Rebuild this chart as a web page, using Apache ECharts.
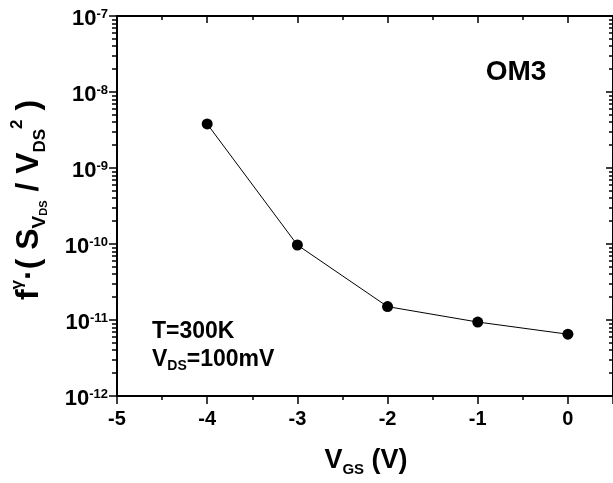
<!DOCTYPE html>
<html>
<head>
<meta charset="utf-8">
<script src="https://cdn.jsdelivr.net/npm/echarts@6/dist/echarts.min.js"></script>
<style>
html,body{margin:0;padding:0;background:#fff}
#chart{width:613px;height:483px}
</style>
</head>
<body>
<div id="chart"></div>
<script>
// V_GS (V) and normalised noise
var vgs = [-4, -3, -2, -1, 0];
var noise = [3.8e-9, 9.7e-11, 1.5e-11, 9.4e-12, 6.5e-12];
// axis ranges / ticks
var xMin = -5, xMax = 0.5;
var yDecades = [1e-12, 1e-11, 1e-10, 1e-9, 1e-8, 1e-7];

var FONT = '"Liberation Sans", Arial, sans-serif';

// minor log ticks 2..9 in each decade
var minorVals = [];
for (var i = 0; i < yDecades.length - 1; i++) {
	for (var k = 2; k <= 9; k++) {
		minorVals.push(k * yDecades[i]);
	}
}

var points = [];
for (var i = 0; i < vgs.length; i++) {
	points.push([vgs[i], noise[i]]);
}

function yLabel(v) {
	var p = Math.round(Math.log(v) / Math.LN10);
	return '{b|10}{s|' + p + '}';
}

var black = '#000';
function logAxis(pos, inside, len, custom, showLine) {
	var ax = {
		type : 'log',
		logBase : 10,
		min : yDecades[0],
		max : yDecades[yDecades.length - 1],
		position : pos,
		offset : 0,
		axisLine : { show : showLine, onZero : false, lineStyle : { color : black, width : 2 } },
		axisTick : { show : true, inside : inside, length : len, lineStyle : { color : black, width : 1.5 } },
		axisLabel : { show : false },
		splitLine : { show : false }
	};
	if (custom) {
		ax.axisTick.customValues = custom;
		ax.axisLabel.customValues = custom;
	}
	return ax;
}

var yMain = logAxis('left', false, 8, null, true);
yMain.axisLabel = {
	show : true,
	margin : 9,
	padding : [6, 0, 0, 0],
	formatter : yLabel,
	rich : {
		b : { fontFamily : FONT, fontWeight : 'bold', fontSize : 22, lineHeight : 22, color : black },
		s : { fontFamily : FONT, fontWeight : 'bold', fontSize : 13, lineHeight : 14, color : black, verticalAlign : 'top' }
	}
};

var chart = echarts.init(document.getElementById('chart'));
var option = {
	animation : false,
	backgroundColor : '#fff',
	grid : { left : 117, right : -2, top : 16, bottom : 87 },
	xAxis : [ {
		type : 'value',
		position : 'bottom',
		min : xMin,
		max : xMax,
		interval : 1,
		axisLine : { onZero : false, lineStyle : { color : black, width : 2 } },
		axisTick : { inside : false, length : 8, lineStyle : { color : black, width : 1.5 } },
		minorTick : { show : true, splitNumber : 2, length : 4, lineStyle : { color : black, width : 1.5 } },
		axisLabel : {
			margin : 13,
			showMaxLabel : false,
			fontFamily : FONT, fontWeight : 'bold', fontSize : 20, color : black
		},
		splitLine : { show : false }
	}, {
		type : 'value',
		position : 'top',
		min : xMin,
		max : xMax,
		interval : 1,
		axisLine : { onZero : false, lineStyle : { color : black, width : 2 } },
		axisTick : { inside : true, length : 7, lineStyle : { color : black, width : 1.5 } },
		minorTick : { show : true, splitNumber : 2, length : 4, lineStyle : { color : black, width : 1.5 } },
		axisLabel : { show : false },
		splitLine : { show : false }
	} ],
	yAxis : [
		yMain,
		logAxis('left', false, 5, minorVals, false),
		logAxis('right', true, 7, null, true),
		logAxis('right', true, 4, minorVals, false)
	],
	series : [ {
		type : 'line',
		xAxisIndex : 0,
		yAxisIndex : 0,
		data : points,
		symbol : 'circle',
		symbolSize : 11,
		itemStyle : { color : black },
		lineStyle : { color : black, width : 1 }
	} ],
	graphic : [ {
		type : 'text',
		x : 29, y : 200,
		rotation : Math.PI / 2,
		style : {
			text : '{m|f}{sup|γ}{m|·( S}{sub|V}{ss|DS}{m| / V}{sub2|DS}{sup|2}{m| )}',
			align : 'center', verticalAlign : 'middle',
			rich : {
				m : { fontFamily : FONT, fontWeight : 'bold', fontSize : 32, lineHeight : 40, fill : black },
				sup : { fontFamily : FONT, fontWeight : 'bold', fontSize : 17, lineHeight : 20, fill : black, verticalAlign : 'top' },
				sub : { fontFamily : FONT, fontWeight : 'bold', fontSize : 19, lineHeight : 28, fill : black, verticalAlign : 'bottom' },
				ss : { fontFamily : FONT, fontWeight : 'bold', fontSize : 11, lineHeight : 12, fill : black, verticalAlign : 'bottom' },
				sub2 : { fontFamily : FONT, fontWeight : 'bold', fontSize : 17, lineHeight : 22, fill : black, verticalAlign : 'bottom' }
			}
		}
	}, {
		type : 'text',
		x : 366, y : 461,
		style : {
			text : '{m|V}{sub|GS}{m| (V)}',
			align : 'center', verticalAlign : 'middle',
			rich : {
				m : { fontFamily : FONT, fontWeight : 'bold', fontSize : 27, lineHeight : 32, fill : black },
				sub : { fontFamily : FONT, fontWeight : 'bold', fontSize : 15, lineHeight : 16, fill : black, verticalAlign : 'bottom' }
			}
		}
	}, {
		type : 'text',
		x : 516, y : 72,
		style : {
			text : 'OM3',
			align : 'center', verticalAlign : 'middle',
			font : 'bold 28px ' + FONT,
			fill : black
		}
	}, {
		type : 'text',
		x : 152, y : 332,
		style : {
			text : 'T=300K',
			align : 'left', verticalAlign : 'middle',
			font : 'bold 23px ' + FONT,
			fill : black
		}
	}, {
		type : 'text',
		x : 152, y : 360,
		style : {
			text : '{m|V}{sub|DS}{m|=100mV}',
			align : 'left', verticalAlign : 'middle',
			rich : {
				m : { fontFamily : FONT, fontWeight : 'bold', fontSize : 23, lineHeight : 26, fill : black },
				sub : { fontFamily : FONT, fontWeight : 'bold', fontSize : 14, lineHeight : 14, fill : black, verticalAlign : 'bottom' }
			}
		}
	} ]
};
chart.setOption(option);
</script>
</body>
</html>
